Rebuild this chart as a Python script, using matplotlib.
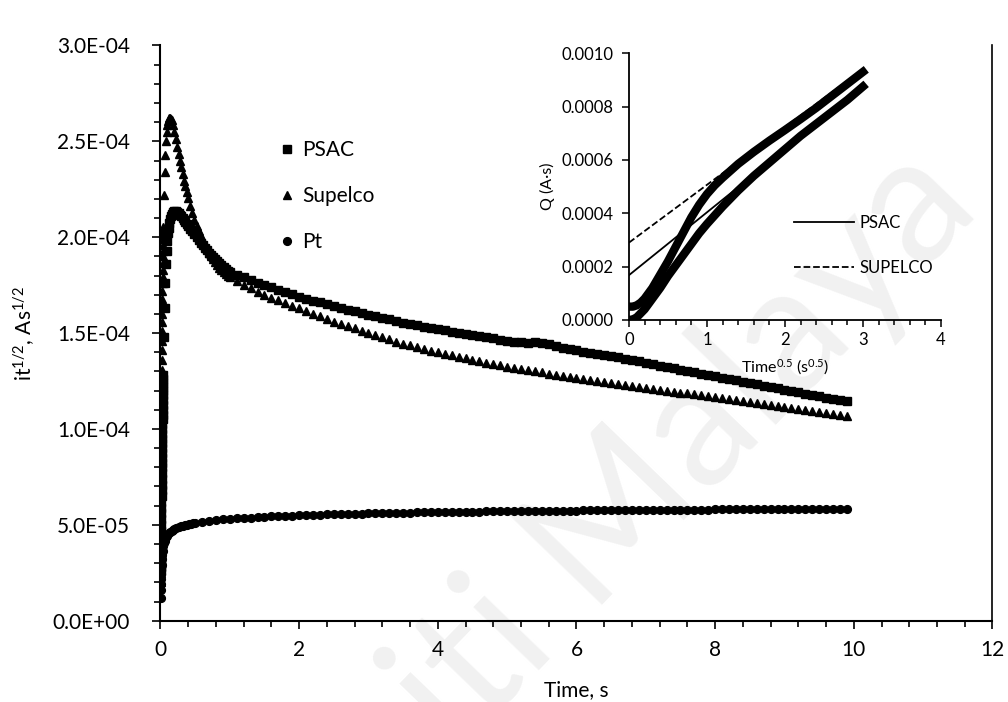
import numpy as np
import matplotlib
matplotlib.use('Agg')
import matplotlib.pyplot as plt
from matplotlib.ticker import MultipleLocator, FuncFormatter

plt.rcParams['font.family'] = ['Lato', 'DejaVu Sans']
plt.rcParams['mathtext.default'] = 'regular'

# it^1/2 values are in units of 1E-06 A s^1/2
# the current rise is sampled every 1 ms, then denser up to 1 s, then every 0.1 s
t_rise = np.round(np.arange(0.001, 0.0405, 0.001), 3)
t_early = [0.05, 0.06, 0.07, 0.08, 0.09, 0.10, 0.11, 0.12, 0.13, 0.14,
           0.15, 0.16, 0.18, 0.20, 0.22, 0.24, 0.26, 0.28, 0.30, 0.32,
           0.34, 0.36, 0.38, 0.40, 0.43, 0.46, 0.49, 0.52, 0.55, 0.58,
           0.61, 0.64, 0.67, 0.70, 0.73, 0.76, 0.79, 0.82, 0.85, 0.88,
           0.91, 0.94, 0.97]
t_late = np.round(np.arange(1.0, 9.95, 0.1), 1)

psac_rise = [26, 28, 30, 32, 35, 38, 41, 44, 47, 50,
             53, 56, 59, 62, 65, 68, 71, 74, 77, 80,
             82.5, 85, 87.5, 90, 92.5, 95, 97.5, 100, 102.5, 105,
             107.5, 110, 112.5, 115, 117.5, 120, 122, 124, 126, 128]
psac_early = [148, 163, 176, 186, 193, 198, 202, 205, 207.5, 209.5,
              211, 212, 213.2, 213.6, 213.6, 213.2, 212.6, 211.8, 211, 210,
              209, 208, 207, 206, 204.5, 203, 201.5, 200, 198.6, 197.2,
              195.8, 194.5, 193.2, 192, 190.8, 189.6, 188.5, 187.4, 186.3, 185.3,
              184.3, 183.4, 182.6]
psac_late = [182.0, 180.5, 179.0, 177.6, 176.3, 175.0, 173.8, 172.6, 171.4, 170.2,
             169.0, 168.0, 167.0, 166.0, 165.0, 164.0, 163.1, 162.2, 161.3, 160.4,
             159.5, 158.7, 157.9, 157.1, 156.3, 155.5, 154.8, 154.1, 153.4, 152.7,
             152.0, 151.4, 150.8, 150.2, 149.6, 149.0, 148.4, 147.8, 147.2, 146.6,
             146.0, 145.6, 145.2, 145.0, 145.1, 145.0, 144.2, 143.2, 142.4, 141.7,
             141.0, 140.4, 139.8, 139.2, 138.6, 138.0, 137.3, 136.6, 135.9, 135.2,
             134.5, 133.8, 133.1, 132.4, 131.7, 131.0, 130.3, 129.6, 128.9, 128.2,
             127.5, 126.8, 126.1, 125.4, 124.7, 124.0, 123.3, 122.6, 121.9, 121.2,
             120.5, 119.8, 119.1, 118.4, 117.7, 117.0, 116.4, 115.8, 115.2, 114.6]

sup_rise = [20, 25, 30, 36, 42, 48, 54, 60, 66, 72,
            78, 84, 90, 96, 102, 108, 114, 120, 126, 131,
            136, 141, 146, 151, 156, 160, 164, 168, 172, 176,
            179.5, 183, 186.5, 190, 193, 196, 199, 201.5, 203.5, 205.5]
sup_early = [222, 234, 243, 250, 255, 258.5, 260.5, 261.8, 262.3, 262.3,
             261.8, 261, 258.5, 255, 251, 247, 243.5, 240, 236.5, 233,
             229.5, 226.5, 223.5, 220.5, 216.5, 212.5, 209, 206, 203, 200.5,
             198, 196, 194, 192, 190.2, 188.5, 187, 185.5, 184.2, 183,
             181.8, 180.8, 179.9]
sup_late = [179.0, 177.0, 175.1, 173.3, 171.6, 170.0, 168.5, 167.1, 165.7, 164.3,
            163.0, 161.6, 160.2, 158.8, 157.4, 156.0, 154.8, 153.6, 152.4, 151.2,
            150.0, 148.9, 147.8, 146.7, 145.6, 144.5, 143.6, 142.7, 141.8, 140.9,
            140.0, 139.2, 138.4, 137.6, 136.8, 136.0, 135.3, 134.6, 133.9, 133.2,
            132.5, 131.9, 131.3, 130.7, 130.1, 129.5, 128.9, 128.3, 127.7, 127.1,
            126.5, 126.0, 125.5, 125.0, 124.5, 124.0, 123.5, 123.0, 122.5, 122.0,
            121.5, 121.0, 120.5, 120.0, 119.5, 119.0, 118.5, 118.0, 117.5, 117.0,
            116.5, 116.0, 115.5, 115.0, 114.5, 114.0, 113.5, 113.0, 112.5, 112.0,
            111.5, 111.0, 110.5, 110.0, 109.5, 109.0, 108.5, 108.0, 107.5, 107.0]

t_pt_early = [0.002, 0.004, 0.006, 0.008, 0.01, 0.012, 0.015, 0.02, 0.025, 0.03,
              0.04, 0.05, 0.06, 0.07, 0.08, 0.09, 0.10, 0.12, 0.14, 0.16,
              0.18, 0.20, 0.23, 0.26, 0.29, 0.32, 0.35, 0.38, 0.41, 0.44, 0.47]
t_pt_late = np.round(np.arange(0.5, 9.95, 0.1), 1)
pt_early = [12, 16, 19, 22, 24.5, 26.5, 29, 32, 34.5, 36.5,
            39, 40.5, 41.8, 42.8, 43.6, 44.2, 44.8, 45.6, 46.3, 46.9,
            47.4, 47.8, 48.3, 48.8, 49.2, 49.5, 49.8, 50.1, 50.4, 50.6, 50.8]
pt_late = [51.0, 51.5, 52.0, 52.5, 52.9,
           53.2, 53.4, 53.6, 53.8, 54.0, 54.2, 54.4, 54.5, 54.7, 54.8,
           55.0, 55.1, 55.2, 55.3, 55.4, 55.5, 55.6, 55.7, 55.8, 55.9,
           56.0, 56.1, 56.1, 56.2, 56.3, 56.3, 56.4, 56.5, 56.5, 56.6,
           56.6, 56.7, 56.7, 56.8, 56.8, 56.9, 56.9, 57.0, 57.0, 57.0,
           57.1, 57.1, 57.2, 57.2, 57.2, 57.3, 57.3, 57.3, 57.4, 57.4,
           57.4, 57.5, 57.5, 57.5, 57.6, 57.6, 57.6, 57.6, 57.7, 57.7,
           57.7, 57.7, 57.8, 57.8, 57.8, 57.8, 57.9, 57.9, 57.9, 57.9,
           58.0, 58.0, 58.0, 58.0, 58.0, 58.1, 58.1, 58.1, 58.1, 58.1,
           58.2, 58.2, 58.2, 58.2, 58.2, 58.3, 58.3, 58.3, 58.3, 58.3]

# inset: charge vs t^0.5, Q in units of 1E-04 A s
sq_sup = [0, 0.05, 0.1, 0.15, 0.2, 0.3, 0.4, 0.5, 0.6, 0.7, 0.8, 0.9,
          1.0, 1.1, 1.2, 1.4, 1.6, 1.8, 2.0, 2.2, 2.4, 2.6, 2.8, 3.0]
q_sup = [0.5, 0.5, 0.55, 0.65, 0.8, 1.2, 1.7, 2.2, 2.75, 3.3, 3.85, 4.32,
         4.72, 5.05, 5.33, 5.85, 6.3, 6.72, 7.12, 7.53, 7.95, 8.4, 8.85, 9.3]
sq_psac = [0, 0.05, 0.1, 0.15, 0.2, 0.3, 0.4, 0.5, 0.6, 0.7, 0.8, 0.9,
           1.0, 1.2, 1.4, 1.6, 1.8, 2.0, 2.2, 2.4, 2.6, 2.8, 3.0]
q_psac = [0.0, 0.02, 0.1, 0.25, 0.4, 0.8, 1.2, 1.65, 2.05, 2.45, 2.85, 3.25,
          3.6, 4.25, 4.85, 5.4, 5.9, 6.4, 6.9, 7.35, 7.8, 8.25, 8.75]
# linear fits (end points at t^0.5 = 0 and 3)
fit_x = [0, 3]
fit_psac = [1.68, 8.75]
fit_sup = [2.9, 9.4]

t_main = np.concatenate([t_rise, t_early, t_late])
y_psac = np.concatenate([psac_rise, psac_early, psac_late]) * 1e-6
y_sup = np.concatenate([sup_rise, sup_early, sup_late]) * 1e-6
t_pt = np.concatenate([t_pt_early, t_pt_late])
y_pt = np.concatenate([pt_early, pt_late]) * 1e-6

fig = plt.figure(figsize=(10.08, 7.02), dpi=100)
ax = fig.add_axes([0.1592, 0.1158, 0.8254, 0.8194])

ax.plot(t_main, y_psac, 's', color='black', ms=5.2, label='PSAC')
ax.plot(t_main, y_sup, '^', color='black', ms=5.8, label='Supelco')
ax.plot(t_pt, y_pt, 'o', color='black', ms=5.6, label='Pt')

ax.set_xlim(0, 12)
ax.set_ylim(0, 3e-4)
ax.xaxis.set_major_locator(MultipleLocator(2))
ax.xaxis.set_minor_locator(MultipleLocator(0.4))
ax.yaxis.set_major_locator(MultipleLocator(5e-5))
ax.yaxis.set_minor_locator(MultipleLocator(1e-5))
ax.yaxis.set_major_formatter(FuncFormatter(lambda v, p: '{:.1E}'.format(v)))
ax.yaxis.set_ticks_position('left')
ax.xaxis.set_ticks_position('bottom')
ax.tick_params(which='both', direction='out', width=1.2, labelsize=15, colors='black')
ax.tick_params(which='major', length=6)
ax.tick_params(which='minor', length=4.5)
ax.tick_params(axis='x', pad=8)
ax.tick_params(axis='y', pad=16)
ax.spines['top'].set_visible(False)
for s in ['left', 'bottom']:
    ax.spines[s].set_linewidth(1.5)
ax.spines['right'].set_linewidth(1.2)

ax.set_xlabel('Time, s', fontsize=15, labelpad=14)
ax.set_ylabel('it$^{1/2}$, As$^{1/2}$', fontsize=15, labelpad=11)

ax.legend(loc='upper left', bbox_to_anchor=(0.135, 0.85), frameon=False,
          fontsize=15, handlelength=0.6, handletextpad=0.4, labelspacing=1.25,
          numpoints=1, borderaxespad=0)

# watermark
ax.text(0.975, 0.70, 'Universiti Malaya', transform=fig.transFigure,
        rotation=46, rotation_mode='anchor', ha='right', va='baseline',
        fontsize=128, color='#f1f1f1', zorder=0, clip_on=False)

# inset
ins = fig.add_axes([0.624, 0.5442, 0.3095, 0.38])
ins.patch.set_alpha(0)
ins.plot(sq_sup, np.array(q_sup) * 1e-4, '-', color='black', lw=6)
ins.plot(sq_psac, np.array(q_psac) * 1e-4, '-', color='black', lw=6)
ins.plot(fit_x, np.array(fit_psac) * 1e-4, '-', color='black', lw=1.3, label='PSAC')
ins.plot(fit_x, np.array(fit_sup) * 1e-4, '--', color='black', lw=1.3, label='SUPELCO')
ins.set_xlim(0, 4)
ins.set_ylim(0, 0.001)
ins.xaxis.set_major_locator(MultipleLocator(1))
ins.xaxis.set_minor_locator(MultipleLocator(0.2))
ins.yaxis.set_major_locator(MultipleLocator(0.0002))
ins.yaxis.set_major_formatter(FuncFormatter(lambda v, p: '{:.4f}'.format(v)))
ins.tick_params(which='both', direction='out', width=1.1, labelsize=12, colors='black')
ins.tick_params(which='major', length=5)
ins.tick_params(which='minor', length=3.5)
ins.tick_params(axis='y', pad=6)
ins.spines['top'].set_visible(False)
ins.spines['right'].set_visible(False)
for s in ['left', 'bottom']:
    ins.spines[s].set_linewidth(1.3)
ins.set_xlabel('Time$^{0.5}$ (s$^{0.5}$)', fontsize=11.5, labelpad=7)
ins.set_ylabel('Q (A·s)', fontsize=11.5, labelpad=5)
ins.legend(loc='upper left', bbox_to_anchor=(0.508, 0.42), frameon=False,
           fontsize=12, handlelength=3.6, handletextpad=0.35, labelspacing=1.75,
           borderaxespad=0)

fig.savefig('out.png', dpi=100)
